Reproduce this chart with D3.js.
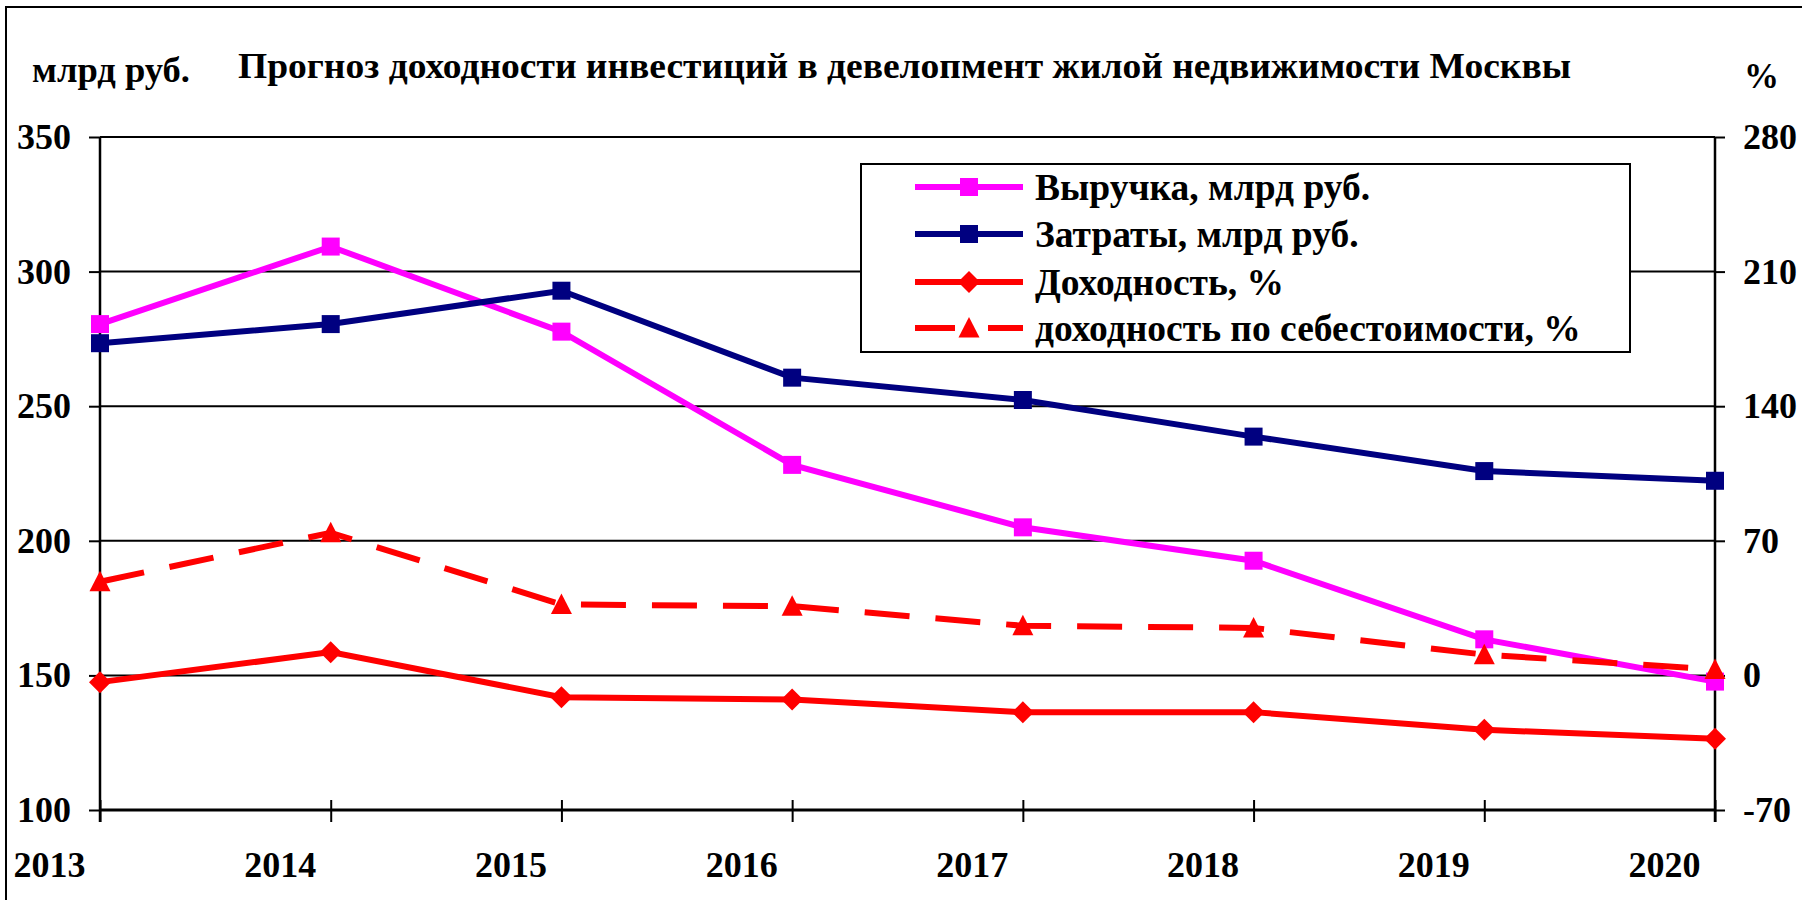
<!DOCTYPE html>
<html><head><meta charset="utf-8">
<script src="https://cdn.jsdelivr.net/npm/d3@7"></script>
<style>
html,body{margin:0;padding:0;background:#fff;}
svg text{font-family:"Liberation Serif","Times New Roman",serif;font-weight:bold;fill:#000;}
</style></head>
<body>
<svg id="chart" width="1802" height="900"></svg>
<script>
const years = ["2013","2014","2015","2016","2017","2018","2019","2020"];
const revenue = [280.5, 309.3, 277.7, 228.2, 205.0, 192.6, 163.4, 147.7];
const costs = [273.4, 280.5, 292.9, 260.6, 252.3, 238.7, 225.9, 222.3];
const yieldPct = [-3.5, 12.1, -11.3, -12.5, -19.2, -19.1, -28.3, -32.9];
const yieldCost = [48.7, 74.2, 36.9, 36.0, 25.8, 24.7, 10.8, 3.1];
const leftTicks = [100,150,200,250,300,350];
const rightTicks = [-70,0,70,140,210,280];
const seriesNames = ["Выручка, млрд руб.","Затраты, млрд руб.","Доходность, %","доходность по себестоимости, %"];
const titleText = "Прогноз доходности инвестиций в девелопмент жилой недвижимости Москвы";
const leftUnit = "млрд руб.";
const rightUnit = "%";

const svg = d3.select("#chart");
const L = 100, R = 1715, T = 137, B = 810;
const x = d3.scalePoint().domain(years).range([L, R]);
const yL = d3.scaleLinear().domain([100, 350]).range([B, T]);
const yR = d3.scaleLinear().domain([-70, 280]).range([B, T]);

// outer frame
svg.append("rect").attr("x",6).attr("y",7).attr("width",1810).attr("height",910)
  .attr("fill","none").attr("stroke","#000").attr("stroke-width",2);

// title and unit labels
svg.append("text").attr("x",238).attr("y",78).attr("font-size",35)
  .attr("textLength",1333).attr("lengthAdjust","spacingAndGlyphs").text(titleText);
svg.append("text").attr("x",32).attr("y",82).attr("font-size",35)
  .attr("textLength",158).attr("lengthAdjust","spacingAndGlyphs").text(leftUnit);
svg.append("text").attr("x",1744).attr("y",88).attr("font-size",35).text(rightUnit);

// gridlines
svg.append("g").selectAll("line").data(leftTicks.filter(d=>d>100)).join("line")
  .attr("x1",L).attr("x2",R).attr("y1",d=>yL(d)).attr("y2",d=>yL(d))
  .attr("stroke","#000").attr("stroke-width",2);

function styleTicks(g){
  g.selectAll(".tick line").attr("stroke","#000").attr("stroke-width",2);
  g.selectAll(".tick text").attr("font-size",36).attr("fill","#000");
}

// left axis
const gl = svg.append("g").attr("transform",`translate(${L},0)`)
  .call(d3.axisLeft(yL).tickValues(leftTicks).tickFormat(d=>String(d)).tickSize(11).tickPadding(18));
gl.select(".domain").attr("stroke","#000").attr("stroke-width",2.5).attr("d",`M0,${T}V${B+12}`);
styleTicks(gl);

// right axis
const gr = svg.append("g").attr("transform",`translate(${R},0)`)
  .call(d3.axisRight(yR).tickValues(rightTicks).tickFormat(d=>String(d)).tickSize(10).tickPadding(18));
gr.select(".domain").attr("stroke","#000").attr("stroke-width",2.5).attr("d",`M0,${T}V${B+12}`);
styleTicks(gr);

// bottom axis
const gb = svg.append("g").attr("transform",`translate(0,${B})`)
  .call(d3.axisBottom(x).tickSize(12).tickPadding(0));
gb.select(".domain").attr("stroke","#000").attr("stroke-width",3).attr("d",`M${L},0H${R}`);
styleTicks(gb);
gb.selectAll(".tick line").attr("y1",-10).attr("y2",12);
gb.selectAll(".tick text").attr("x",-51).attr("y",67).attr("dy",0);

// series
const series = [
  {name:seriesNames[0], values:revenue, y:yL, color:"#FF00FF", marker:"square", dash:null},
  {name:seriesNames[1], values:costs, y:yL, color:"#000080", marker:"square", dash:null},
  {name:seriesNames[2], values:yieldPct, y:yR, color:"#FF0000", marker:"diamond", dash:null},
  {name:seriesNames[3], values:yieldCost, y:yR, color:"#FF0000", marker:"triangle", dash:"45,26"}
];
function markerPath(type){
  if(type==="square") return "M-9,-9H9V9H-9Z";
  if(type==="diamond") return "M0,-11L11,0L0,11L-11,0Z";
  return "M0,-11L10.5,9.5H-10.5Z";
}
series.forEach(s=>{
  const line = d3.line().x((d,i)=>x(years[i])).y(d=>s.y(d));
  svg.append("path").datum(s.values).attr("d",line).attr("fill","none")
    .attr("stroke",s.color).attr("stroke-width",6).attr("stroke-linejoin","miter")
    .attr("stroke-dasharray",s.dash);
  svg.append("g").selectAll("path").data(s.values).join("path")
    .attr("transform",(d,i)=>`translate(${x(years[i])},${s.y(d)})`)
    .attr("d",markerPath(s.marker)).attr("fill",s.color);
});

// legend
const lg = svg.append("g");
lg.append("rect").attr("x",861).attr("y",164).attr("width",769).attr("height",188)
  .attr("fill","#fff").attr("stroke","#000").attr("stroke-width",2);
const rowY = [187, 234, 282, 328];
series.forEach((s,i)=>{
  const g = lg.append("g").attr("transform",`translate(0,${rowY[i]})`);
  if(s.dash){
    g.append("line").attr("x1",915).attr("x2",955).attr("stroke",s.color).attr("stroke-width",6);
    g.append("line").attr("x1",988).attr("x2",1023).attr("stroke",s.color).attr("stroke-width",6);
  } else {
    g.append("line").attr("x1",915).attr("x2",1023).attr("stroke",s.color).attr("stroke-width",6);
  }
  g.append("path").attr("transform","translate(969,0)").attr("d",markerPath(s.marker)).attr("fill",s.color);
  g.append("text").attr("x",1035).attr("y",13).attr("font-size",37.5).text(s.name);
});
</script>
</body></html>
